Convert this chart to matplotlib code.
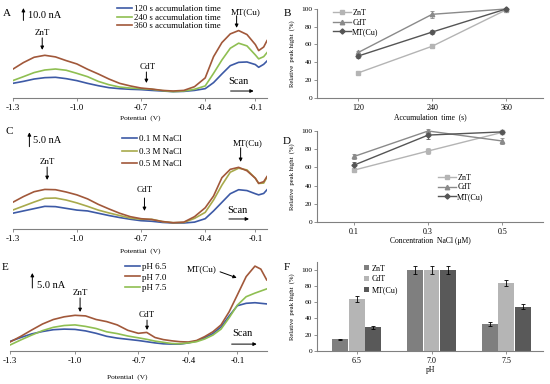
import numpy as np
import matplotlib.pyplot as plt
from matplotlib.lines import Line2D

plt.rcParams['font.family'] = ['Liberation Serif', 'DejaVu Serif']

# =====================================
# Data: voltammograms (current in nA)
# =====================================

pot_ac = [-1.30, -1.25, -1.20, -1.15, -1.10, -1.05, -1.00, -0.95, -0.90, -0.85,
          -0.80, -0.75, -0.70, -0.65, -0.60, -0.55, -0.50, -0.45, -0.40, -0.35,
          -0.30, -0.25, -0.20, -0.15, -0.10, -0.08, -0.05, -0.03]

a_120 = [11.6, 13.2, 15.1, 16.2, 16.5, 15.4, 13.8, 11.6, 9.7, 8.1,
         7.3, 6.8, 6.5, 5.9, 5.4, 4.9, 5.1, 5.9, 7.3, 12.2,
         19.2, 25.9, 28.6, 28.9, 26.8, 24.6, 27.0, 29.7]
a_240 = [13.8, 17.0, 20.3, 22.4, 23.2, 22.2, 19.7, 17.0, 13.2, 10.5,
         8.6, 7.8, 7.3, 6.8, 5.7, 4.9, 5.4, 6.8, 9.5, 19.7,
         30.5, 40.0, 44.1, 41.9, 34.6, 31.4, 33.2, 36.5]
a_360 = [23.0, 28.4, 32.7, 34.3, 33.0, 30.0, 27.3, 23.0, 19.2, 15.1,
         11.6, 9.5, 7.8, 7.0, 5.9, 5.4, 5.9, 8.9, 16.0, 33.2,
         44.6, 51.6, 54.3, 51.1, 43.0, 38.1, 41.0, 46.2]

c_01 = [5.5, 6.3, 7.1, 7.9, 7.8, 7.2, 6.6, 6.3, 5.5, 4.7,
        4.0, 3.4, 2.9, 2.7, 2.3, 2.1, 2.1, 2.4, 3.6, 6.3,
        9.3, 12.3, 13.7, 13.4, 12.3, 11.9, 12.4, 13.7]
c_03 = [6.6, 8.0, 9.4, 10.7, 10.8, 10.1, 9.1, 7.9, 6.6, 5.6,
        4.7, 3.8, 3.4, 3.4, 2.6, 2.2, 2.3, 3.7, 5.8, 10.1,
        15.3, 19.8, 21.2, 20.6, 17.7, 15.9, 16.0, 18.1]
c_05 = [9.3, 11.3, 13.0, 13.8, 13.7, 12.9, 11.9, 10.5, 8.6, 7.0,
        5.5, 4.3, 3.6, 3.3, 2.6, 2.2, 2.4, 4.3, 7.4, 11.5,
        17.9, 20.8, 21.5, 20.3, 17.7, 15.9, 16.5, 18.3]

pot_e = [-1.30, -1.25, -1.20, -1.15, -1.10, -1.05, -1.00, -0.95, -0.90, -0.85,
         -0.80, -0.75, -0.70, -0.65, -0.60, -0.55, -0.50, -0.45, -0.40, -0.35,
         -0.30, -0.25, -0.20, -0.15, -0.10, -0.07, -0.04, -0.02, 0.00]

e_65 = [3.1, 4.4, 5.6, 6.4, 7.0, 7.2, 7.1, 6.6, 5.8, 4.8,
        4.2, 3.8, 3.4, 3.0, 2.6, 2.3, 2.2, 2.2, 2.6, 3.2,
        4.3, 5.7, 7.9, 11.6, 15.0, 15.8, 16.0, 15.8, 15.6]
e_70 = [2.9, 4.8, 6.9, 8.9, 10.4, 11.3, 11.8, 11.6, 10.4, 9.7,
        8.6, 6.8, 5.8, 6.1, 4.4, 3.7, 3.3, 3.0, 2.9, 3.4,
        4.7, 6.3, 8.6, 13.0, 18.6, 24.7, 28.2, 27.2, 23.6]
e_75 = [1.9, 3.6, 5.2, 6.7, 7.8, 8.4, 8.6, 8.1, 7.4, 6.3,
        5.7, 4.9, 4.3, 3.8, 3.2, 2.8, 2.4, 2.3, 2.6, 3.0,
        3.9, 5.2, 7.2, 11.0, 15.2, 18.0, 19.2, 19.9, 20.6]

# =====================================
# Data: relative peak heights (%)
# =====================================

time_s = [120, 240, 360]
b_znt = [28, 58, 99]
b_znt_err = [1.5, 2.5, 2]
b_cdt = [51, 94, 100]
b_cdt_err = [2, 4, 1.5]
b_mt = [47, 74, 100]
b_mt_err = [2, 2.5, 1.5]

nacl = [0.1, 0.3, 0.5]
d_znt = [57, 78, 98.5]
d_znt_err = [2, 3, 2]
d_cdt = [72, 100, 89]
d_cdt_err = [3, 2, 3]
d_mt = [62.5, 95.5, 99]
d_mt_err = [3, 4, 2.5]

ph_labels = ['6.5', '7.0', '7.5']
f_znt = [14, 100, 33]
f_znt_err = [1, 5, 2]
f_cdt = [64, 100, 84]
f_cdt_err = [3.5, 5, 4]
f_mt = [29, 100, 54.5]
f_mt_err = [2, 5, 3]

tick_v = [-1.3, -1.0, -0.7, -0.4, -0.1]
tick_lbl = ['-1.3', '-1.0', '-0.7', '-0.4', '-0.1']

BLUE = '#3d5aa6'
GREEN = '#8fbf52'
OLIVE = '#a8aa4c'
BROWN = '#a1583a'
AX_GRAY = '#808080'

fig = plt.figure(figsize=(5.5, 3.84), dpi=100)


def volt_axes(rect, knots_v, knots_p, ymax):
    ax = fig.add_axes(rect)
    ax.set_xscale('function', functions=(
        lambda x: np.interp(x, knots_v, knots_p),
        lambda p: np.interp(p, knots_p, knots_v)))
    ax.set_xlim(knots_v[0], knots_v[-1])
    ax.set_ylim(0, ymax)
    for s in ['top', 'right', 'left']:
        ax.spines[s].set_visible(False)
    ax.spines['bottom'].set_color(AX_GRAY)
    ax.spines['bottom'].set_linewidth(0.8)
    ax.set_yticks([])
    ax.set_xticks(tick_v)
    ax.set_xticklabels(tick_lbl)
    ax.xaxis.set_minor_locator(plt.NullLocator())
    ax.tick_params(axis='x', length=2.5, width=0.6, color=AX_GRAY,
                   labelsize=6.5, pad=2)
    ax.patch.set_alpha(0)
    return ax


def arrow(ax, tail, tip):
    ax.annotate('', xy=tip, xytext=tail,
                arrowprops=dict(arrowstyle='-|>', color='black', lw=0.7,
                                mutation_scale=5, shrinkA=0, shrinkB=0))


def label_peaks(ax, items):
    for txt, tx, ty, tail, tip in items:
        ax.text(tx, ty, txt, fontsize=6.5, ha='center', va='center')
        arrow(ax, tail, tip)


def scale_bar(ax, x, y0, y1, txt, tx, ty):
    arrow(ax, (x, y0), (x, y1))
    ax.text(tx, ty, txt, fontsize=7.5, ha='left', va='center')


def scan(ax, tx, ty, x0, x1, y):
    ax.text(tx, ty, 'Scan', fontsize=7.5, ha='center', va='center')
    arrow(ax, (x0, y), (x1, y))


# =====================================
# A: accumulation time
# =====================================

ax = volt_axes([0.0231, 0.7456, 0.4624, 0.2414],
               [-1.3, -1.0, -0.7, -0.4, -0.1, -0.03],
               [38, 230, 422, 614, 764, 799], 75)
ax.plot(pot_ac, a_120, color=BLUE, lw=1.2, label='120 s accumulation time')
ax.plot(pot_ac, a_240, color=GREEN, lw=1.2, label='240 s accumulation time')
ax.plot(pot_ac, a_360, color=BROWN, lw=1.2, label='360 s accumulation time')
ax.legend(loc='upper left', bbox_to_anchor=(0.41, 1.0), frameon=False,
          fontsize=6.3, handlelength=1.7, handletextpad=0.2,
          labelspacing=0.05, borderpad=0, borderaxespad=0)
scale_bar(ax, -1.25, 62.5, 72.5, '10.0 nA', -1.227, 66.3)
label_peaks(ax, [
    ('ZnT', -1.162, 52.5, (-1.162, 48.4), (-1.162, 38.7)),
    ('CdT', -0.670, 24.9, (-0.675, 20.8), (-0.675, 11.9)),
    ('MT(Cu)', -0.158, 69.5, (-0.212, 66.3), (-0.212, 56.5)),
])
scan(ax, -0.20, 13.5, -0.248, -0.11, 5.4)
ax.set_xlabel('Potential  (V)', fontsize=5.3)
ax.xaxis.set_label_coords(0.5, -0.19)

# =====================================
# C: NaCl concentration
# =====================================

ax = volt_axes([0.0231, 0.4036, 0.4624, 0.2630],
               [-1.3, -1.0, -0.7, -0.4, -0.1, -0.03],
               [38, 230, 422, 614, 764, 799], 35.2)
ax.plot(pot_ac, c_01, color=BLUE, lw=1.2, label='0.1 M NaCl')
ax.plot(pot_ac, c_03, color=OLIVE, lw=1.2, label='0.3 M NaCl')
ax.plot(pot_ac, c_05, color=BROWN, lw=1.2, label='0.5 M NaCl')
ax.legend(loc='upper left', bbox_to_anchor=(0.43, 0.93), frameon=False,
          fontsize=6.5, handlelength=1.7, handletextpad=0.2,
          labelspacing=0.45, borderpad=0, borderaxespad=0)
scale_bar(ax, -1.222, 28.7, 33.7, '5.0 nA', -1.203, 31.0)
label_peaks(ax, [
    ('ZnT', -1.139, 23.4, (-1.139, 21.6), (-1.139, 17.1)),
    ('CdT', -0.684, 13.6, (-0.684, 10.8), (-0.684, 6.3)),
    ('MT(Cu)', -0.144, 30.0, (-0.188, 28.3), (-0.188, 23.4)),
])
scan(ax, -0.206, 6.6, -0.258, -0.138, 3.5)
ax.set_xlabel('Potential  (V)', fontsize=5.3)
ax.xaxis.set_label_coords(0.5, -0.19)

# =====================================
# E: pH
# =====================================

ax = volt_axes([0.0182, 0.0867, 0.4667, 0.2414],
               [-1.3, -1.0, -0.7, -0.4, -0.1, 0.0],
               [30, 225, 415, 565, 712, 800], 30.9)
ax.plot(pot_e, e_65, color=BLUE, lw=1.2, label='pH 6.5')
ax.plot(pot_e, e_70, color=BROWN, lw=1.2, label='pH 7.0')
ax.plot(pot_e, e_75, color=GREEN, lw=1.2, label='pH 7.5')
ax.legend(loc='upper left', bbox_to_anchor=(0.448, 0.95), frameon=False,
          fontsize=6.5, handlelength=1.7, handletextpad=0.2,
          labelspacing=0.25, borderpad=0, borderaxespad=0)
scale_bar(ax, -1.197, 20.9, 25.9, '5.0 nA', -1.174, 21.6)
label_peaks(ax, [
    ('ZnT', -0.976, 19.2, (-0.976, 17.6), (-0.976, 12.9)),
    ('CdT', -0.648, 11.9, (-0.648, 10.2), (-0.648, 6.9)),
])
ax.text(-0.318, 27.2, 'MT(Cu)', fontsize=6.5, ha='center', va='center')
arrow(ax, (-0.206, 26.3), (-0.104, 24.3))
scan(ax, -0.084, 5.6, -0.135, -0.034, 2.2)
ax.set_xlabel('Potential  (V)', fontsize=5.3)
ax.xaxis.set_label_coords(0.456, -0.25)


# =====================================
# B, D, F: relative peak heights
# =====================================

def pct_axes(rect, ymax=100):
    ax = fig.add_axes(rect)
    for s in ['top', 'right']:
        ax.spines[s].set_visible(False)
    for s in ['left', 'bottom']:
        ax.spines[s].set_color(AX_GRAY)
        ax.spines[s].set_linewidth(0.8)
    ax.set_ylim(0, ymax)
    ax.set_yticks(range(0, 101, 20))
    ax.tick_params(axis='y', labelsize=5.3, length=2, width=0.6,
                   color=AX_GRAY, pad=1.5)
    ax.tick_params(axis='x', labelsize=5.8, length=2, width=0.6,
                   color=AX_GRAY, pad=2.5)
    ax.set_ylabel('Relative  peak hight  (%)', fontsize=4.8)
    ax.yaxis.set_label_coords(-0.097, 0.5)
    ax.patch.set_alpha(0)
    return ax


series_style = [
    ('ZnT', '#b4b4b4', 's'),
    ('CdT', '#8a8a8a', '^'),
    ('MT(Cu)', '#555555', 'D'),
]


def line_panel(ax, x, ys, errs):
    for (name, col, mk), y, e in zip(series_style, ys, errs):
        ax.errorbar(x, y, yerr=e, color=col, marker=mk, ms=3.2 if mk != 'D' else 2.6,
                    lw=1.0, elinewidth=0.6, capsize=1.5, capthick=0.6,
                    label=name, clip_on=False)


ax = pct_axes([0.5764, 0.7456, 0.4109, 0.2310])
line_panel(ax, time_s, [b_znt, b_cdt, b_mt], [b_znt_err, b_cdt_err, b_mt_err])
ax.set_xlim(53, 420)
ax.set_xticks(time_s)
handles = [Line2D([], [], color=c, marker=m, ms=3.2 if m != 'D' else 2.6, lw=1.0)
           for _, c, m in series_style]
ax.legend(handles, [s[0] for s in series_style], loc='upper left',
          bbox_to_anchor=(0.07, 1.0), frameon=False, fontsize=5.8,
          handlelength=2.2, handletextpad=0.2, labelspacing=0.2,
          borderpad=0, borderaxespad=0)
ax.set_xlabel('Accumulation  time  (s)', fontsize=5.5)
ax.xaxis.set_label_coords(0.5, -0.17)

ax = pct_axes([0.5764, 0.4219, 0.4109, 0.2370])
line_panel(ax, nacl, [d_znt, d_cdt, d_mt], [d_znt_err, d_cdt_err, d_mt_err])
ax.set_xlim(0, 0.61)
ax.set_xticks(nacl)
ax.legend(handles, [s[0] for s in series_style], loc='upper left',
          bbox_to_anchor=(0.535, 0.53), frameon=False, fontsize=5.8,
          handlelength=2.2, handletextpad=0.2, labelspacing=0.2,
          borderpad=0, borderaxespad=0)
ax.set_xlabel('Concentration  NaCl (\u03bcM)', fontsize=5.5)
ax.xaxis.set_label_coords(0.5, -0.17)

ax = pct_axes([0.5764, 0.0867, 0.4109, 0.2313], ymax=110)
xpos = np.arange(len(ph_labels))
bar_cols = ['#7f7f7f', '#b5b5b5', '#595959']
for i, (vals, errs, name, col) in enumerate(zip(
        [f_znt, f_cdt, f_mt], [f_znt_err, f_cdt_err, f_mt_err],
        ['ZnT', 'CdT', 'MT(Cu)'], bar_cols)):
    ax.bar(xpos + (i - 1) * 0.222, vals, width=0.212, color=col, label=name,
           yerr=errs, error_kw=dict(elinewidth=0.6, capsize=1.5, capthick=0.6,
                                    ecolor='black'))
ax.set_xlim(-0.53, 2.49)
ax.set_xticks(xpos)
ax.set_xticklabels(ph_labels)
ax.legend(loc='upper left', bbox_to_anchor=(0.21, 0.97), frameon=False,
          fontsize=5.8, handlelength=0.6, handleheight=0.6,
          handletextpad=0.3, labelspacing=0.35, borderpad=0, borderaxespad=0)
ax.set_xlabel('pH', fontsize=5.5)
ax.xaxis.set_label_coords(0.5, -0.17)

# panel letters
for letter, px, py in [('A', 7, 14), ('B', 287, 14), ('C', 9, 132),
                       ('D', 287, 141), ('E', 5, 267), ('F', 287, 268)]:
    fig.text(px / 550, 1 - py / 384, letter, fontsize=8, ha='center', va='center')

fig.savefig('out.png', dpi=100)
